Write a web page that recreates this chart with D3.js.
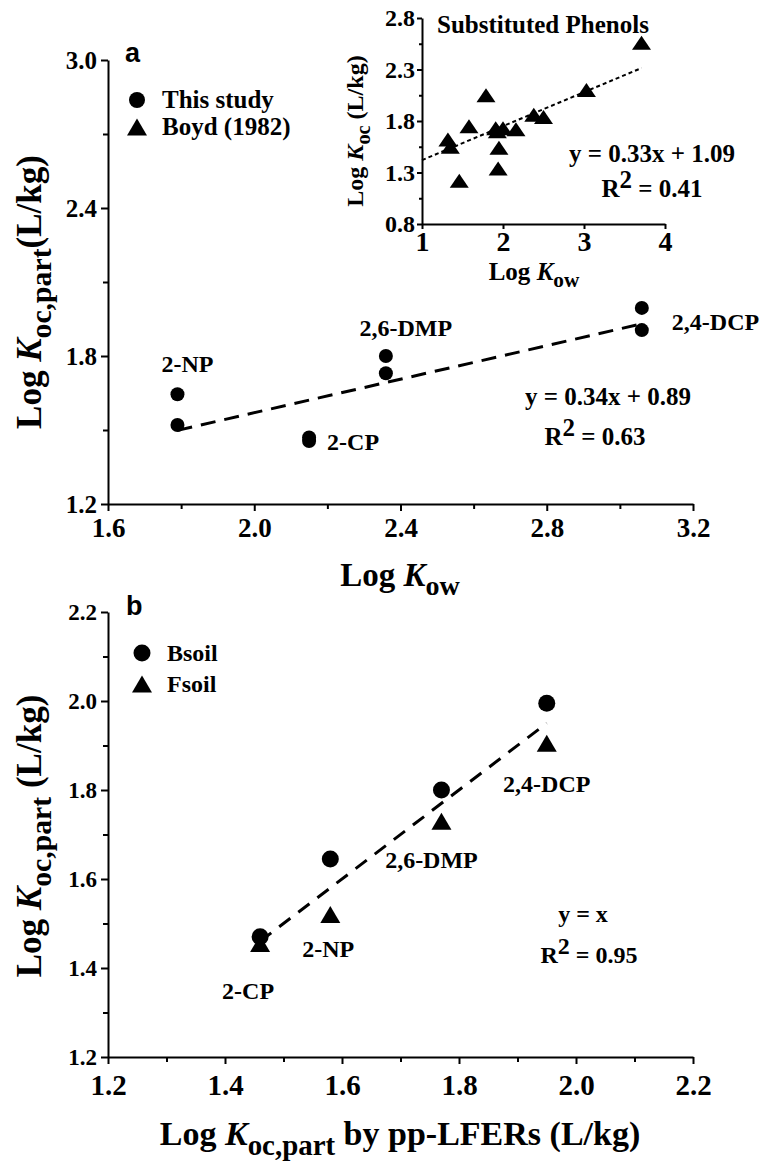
<!DOCTYPE html>
<html>
<head>
<meta charset="utf-8">
<script src="https://cdn.jsdelivr.net/npm/d3@7"></script>
<style>
  body { margin: 0; background: #fff; }
  svg text { font-family: "Liberation Serif", "Times New Roman", serif; font-weight: bold; fill: #000; }
  .axis path, .axis line { stroke: #000; stroke-width: 2; }
</style>
</head>
<body>
<div id="chart"></div>
<script>
// compounds measured in this study
var compounds = ["2-NP", "2-CP", "2,6-DMP", "2,4-DCP"];
var logKow = [1.79, 2.15, 2.36, 3.06];
var kocBsoil = [1.645, 1.47, 1.80, 1.995];
var kocFsoil = [1.52, 1.455, 1.73, 1.905];
// predicted by pp-LFERs (panel b x)
var kocPred = [1.58, 1.46, 1.77, 1.95];

// Boyd (1982) substituted phenols (inset)
var boydKow = [1.58, 1.32, 1.35, 1.91, 2.00, 1.93, 2.16, 2.38, 2.50, 1.95, 1.94, 1.46, 3.71, 3.03, 1.79];
var boydKoc = [1.75, 1.62, 1.55, 1.73, 1.73, 1.70, 1.72, 1.86, 1.84, 1.54, 1.34, 1.22, 2.56, 2.10, 2.05];

// tick values
var ticksAx = [1.6, 2.0, 2.4, 2.8, 3.2], minorAx = [1.8, 2.2, 2.6, 3.0];
var ticksAy = [1.2, 1.8, 2.4, 3.0], minorAy = [1.5, 2.1, 2.7];
var ticksIx = [1, 2, 3, 4];
var ticksIy = [0.8, 1.3, 1.8, 2.3, 2.8], minorIy = [1.05, 1.55, 2.05, 2.55];
var ticksBx = [1.2, 1.4, 1.6, 1.8, 2.0, 2.2], minorBx = [1.3, 1.5, 1.7, 1.9, 2.1];
var ticksBy = [1.2, 1.4, 1.6, 1.8, 2.0, 2.2], minorBy = [1.3, 1.5, 1.7, 1.9, 2.1];

var svg = d3.select("#chart").append("svg")
  .attr("width", 775).attr("height", 1162);

var xA = d3.scaleLinear().domain([1.6, 3.2]).range([108, 693]);
var yA = d3.scaleLinear().domain([1.2, 3.0]).range([504, 60]);
var xI = d3.scaleLinear().domain([1, 4]).range([422, 665]);
var yI = d3.scaleLinear().domain([0.8, 2.8]).range([224, 18]);
var xB = d3.scaleLinear().domain([1.2, 2.2]).range([108, 693]);
var yB = d3.scaleLinear().domain([1.2, 2.2]).range([1057, 612]);

function fmt1(d) { return d3.format(".1f")(d); }

function axes(x, y, o) {
  var x0 = x.range()[0], y0 = y.range()[0];
  var gx = svg.append("g").attr("class", "axis").attr("transform", "translate(0," + y0 + ")")
    .call(d3.axisBottom(x).tickValues(o.xt).tickSize(o.tick).tickSizeOuter(0).tickPadding(o.xpad).tickFormat(o.xf));
  gx.attr("font-family", null).attr("font-size", null);
  gx.selectAll("text").style("font-size", o.xfs + "px").style("font-weight", "bold");
  if (o.xm) svg.append("g").attr("class", "axis").attr("transform", "translate(0," + y0 + ")")
    .call(d3.axisBottom(x).tickValues(o.xm).tickSize(o.mtick).tickSizeOuter(0).tickFormat(""))
    .select(".domain").remove();
  var gy = svg.append("g").attr("class", "axis").attr("transform", "translate(" + x0 + ",0)")
    .call(d3.axisLeft(y).tickValues(o.yt).tickSize(o.tick).tickSizeOuter(0).tickPadding(o.ypad).tickFormat(fmt1));
  gy.attr("font-family", null).attr("font-size", null);
  gy.selectAll("text").style("font-size", o.yfs + "px").style("font-weight", "bold");
  if (o.ym) svg.append("g").attr("class", "axis").attr("transform", "translate(" + x0 + ",0)")
    .call(d3.axisLeft(y).tickValues(o.ym).tickSize(o.mtick).tickSizeOuter(0).tickFormat(""))
    .select(".domain").remove();
  svg.selectAll(".axis text").attr("fill", "#000");
}

// rich text: parts [text, italic?, sub?]
function rich(sel, parts, fs) {
  var sub = 0;
  parts.forEach(function (p) {
    var t = sel.append("tspan").text(p[0]);
    if (p[1]) t.style("font-style", "italic");
    var want = p[2] ? fs * 0.28 : 0;
    if (want !== sub) { t.attr("dy", want - sub); sub = want; }
    if (p[2]) t.style("font-size", (fs * 0.85) + "px");
  });
  return sel;
}

function tri(cx, cy, w, h) {
  return "M" + cx + "," + (cy - h / 2) + "L" + (cx + w / 2) + "," + (cy + h / 2) + "L" + (cx - w / 2) + "," + (cy + h / 2) + "Z";
}

function r2(x, y, val, fs) {
  var t = svg.append("text").attr("x", x).attr("y", y).attr("text-anchor", "middle").style("font-size", fs + "px");
  t.append("tspan").text("R");
  t.append("tspan").text("2").attr("dy", -fs * 0.38);
  t.append("tspan").text(" = " + val).attr("dy", fs * 0.38);
}

// ---------- panel a ----------
axes(xA, yA, { xt: ticksAx, xm: minorAx, yt: ticksAy, ym: minorAy, tick: 7, mtick: 5,
  xpad: 7, ypad: 4, xfs: 27, yfs: 25, xf: fmt1 });

svg.append("text").attr("x", 125).attr("y", 62)
  .style("font-family", "'Liberation Sans', Arial, sans-serif").style("font-size", "27px").text("a");

// regression line y = 0.34x + 0.89
var lineA = d3.line().x(function (d) { return xA(d); }).y(function (d) { return yA(0.34 * d + 0.89); });
svg.append("path").attr("d", lineA([d3.min(logKow), d3.max(logKow)]))
  .attr("fill", "none").attr("stroke", "#000").attr("stroke-width", 3).attr("stroke-dasharray", "15,9");

var ptsA = [];
logKow.forEach(function (k, i) { ptsA.push([k, kocBsoil[i]]); ptsA.push([k, kocFsoil[i]]); });
svg.selectAll(".ptA").data(ptsA).enter().append("circle")
  .attr("cx", function (d) { return xA(d[0]); })
  .attr("cy", function (d) { return yA(d[1]); })
  .attr("r", 7).attr("fill", "#000");

// label offsets relative to the upper point
var labA = [[10, -22, "middle"], [18, 13, "start"], [20, -20, "middle"], [30, 22, "start"]];
compounds.forEach(function (c, i) {
  svg.append("text").attr("x", xA(logKow[i]) + labA[i][0])
    .attr("y", yA(Math.max(kocBsoil[i], kocFsoil[i])) + labA[i][1])
    .attr("text-anchor", labA[i][2]).style("font-size", "24px").text(c);
});

svg.append("text").attr("x", 608).attr("y", 405).attr("text-anchor", "middle")
  .style("font-size", "25px").text("y = 0.34x + 0.89");
r2(595, 445, "0.63", 25);

// legend a
svg.append("circle").attr("cx", 137).attr("cy", 100).attr("r", 8).attr("fill", "#000");
svg.append("text").attr("x", 162).attr("y", 108).style("font-size", "25px").text("This study");
svg.append("path").attr("d", tri(137, 127, 20, 17)).attr("fill", "#000");
svg.append("text").attr("x", 162).attr("y", 135).style("font-size", "25px").text("Boyd (1982)");

// axis titles a
rich(svg.append("text").attr("x", 400).attr("y", 586).attr("text-anchor", "middle").style("font-size", "33px"),
  [["Log "], ["K", true], ["ow", false, true]], 33);
rich(svg.append("text").attr("transform", "translate(41,292) rotate(-90)").attr("text-anchor", "middle").style("font-size", "35px"),
  [["Log "], ["K", true], ["oc,part", false, true], ["(L/kg)"]], 35);

// ---------- inset ----------
axes(xI, yI, { xt: ticksIx, yt: ticksIy, ym: minorIy, tick: 5, mtick: 3,
  xpad: 2, ypad: 2, xfs: 28, yfs: 24, xf: d3.format("d") });

var lineI = d3.line().x(function (d) { return xI(d); }).y(function (d) { return yI(0.33 * d + 1.09); });
svg.append("path").attr("d", lineI([1, d3.max(boydKow)]))
  .attr("fill", "none").attr("stroke", "#000").attr("stroke-width", 2).attr("stroke-dasharray", "4,3");

svg.selectAll(".triI").data(boydKow).enter().append("path")
  .attr("d", function (d, i) { return tri(xI(d), yI(boydKoc[i]), 19, 14); })
  .attr("fill", "#000");

svg.append("text").attr("x", 437).attr("y", 33).style("font-size", "25px").text("Substituted Phenols");
svg.append("text").attr("x", 652).attr("y", 162).attr("text-anchor", "middle")
  .style("font-size", "25px").text("y = 0.33x + 1.09");
r2(652, 197, "0.41", 25);

rich(svg.append("text").attr("x", 534).attr("y", 280).attr("text-anchor", "middle").style("font-size", "25px"),
  [["Log "], ["K", true], ["ow", false, true]], 25);
rich(svg.append("text").attr("transform", "translate(363,131) rotate(-90)").attr("text-anchor", "middle").style("font-size", "24px"),
  [["Log "], ["K", true], ["oc", false, true], [" (L/kg)"]], 24);

// ---------- panel b ----------
axes(xB, yB, { xt: ticksBx, xm: minorBx, yt: ticksBy, ym: minorBy, tick: 7, mtick: 5,
  xpad: 10, ypad: 4, xfs: 29, yfs: 23, xf: fmt1 });

svg.append("text").attr("x", 126).attr("y", 615)
  .style("font-family", "'Liberation Sans', Arial, sans-serif").style("font-size", "27px").text("b");

// y = x line
svg.append("path").attr("d", d3.line().x(function (d) { return xB(d); }).y(function (d) { return yB(d); })([d3.min(kocPred), d3.max(kocPred)]))
  .attr("fill", "none").attr("stroke", "#000").attr("stroke-width", 3).attr("stroke-dasharray", "14,10");

svg.selectAll(".ptB").data(kocPred).enter().append("circle")
  .attr("cx", function (d) { return xB(d); })
  .attr("cy", function (d, i) { return yB(kocBsoil[i]); })
  .attr("r", 8.5).attr("fill", "#000");
svg.selectAll(".triB").data(kocPred).enter().append("path")
  .attr("d", function (d, i) { return tri(xB(d), yB(kocFsoil[i]), 20, 17); })
  .attr("fill", "#000");

// label offsets relative to the triangle
var labB = [[-2, 42], [-12, 55], [-10, 47], [0, 49]];
compounds.forEach(function (c, i) {
  svg.append("text").attr("x", xB(kocPred[i]) + labB[i][0])
    .attr("y", yB(kocFsoil[i]) + labB[i][1])
    .attr("text-anchor", "middle").style("font-size", "24px").text(c);
});

svg.append("text").attr("x", 583).attr("y", 922).attr("text-anchor", "middle")
  .style("font-size", "24px").text("y = x");
r2(589, 963, "0.95", 24);

// legend b
svg.append("circle").attr("cx", 142).attr("cy", 653).attr("r", 8.5).attr("fill", "#000");
svg.append("text").attr("x", 167).attr("y", 661).style("font-size", "24px").text("Bsoil");
svg.append("path").attr("d", tri(142, 684, 20, 17)).attr("fill", "#000");
svg.append("text").attr("x", 167).attr("y", 692).style("font-size", "24px").text("Fsoil");

rich(svg.append("text").attr("x", 400).attr("y", 1145).attr("text-anchor", "middle").style("font-size", "34px"),
  [["Log "], ["K", true], ["oc,part", false, true], [" by pp-LFERs (L/kg)"]], 34);
rich(svg.append("text").attr("transform", "translate(41,836) rotate(-90)").attr("text-anchor", "middle").style("font-size", "35px"),
  [["Log "], ["K", true], ["oc,part", false, true], [" (L/kg)"]], 35);
</script>
</body>
</html>
